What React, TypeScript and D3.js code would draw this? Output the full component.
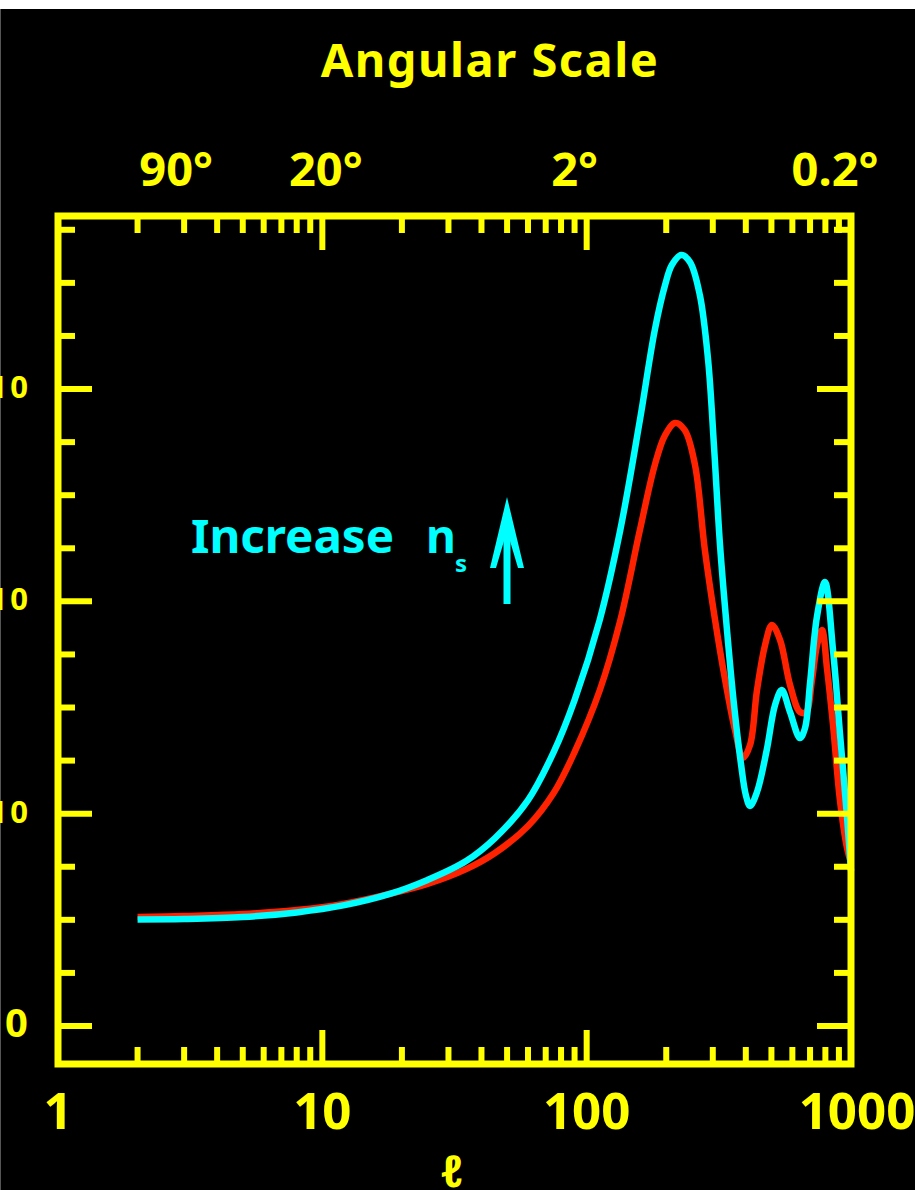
import React from "react";
import * as d3 from "d3";

const W = 915;
const H = 1190;

// multipole l and amplitude for each curve
const CYAN_L = [2, 3, 5, 8, 12, 18, 25, 35, 45, 60, 75, 90, 112, 134, 159, 181, 198, 210, 228, 246, 268, 288, 303, 319.5, 340, 361, 384, 400, 415, 441, 480, 516, 547, 588, 641, 670, 700, 743, 797, 855, 908, 966, 1000];
const CYAN_V = [5.02, 5.04, 5.13, 5.35, 5.68, 6.22, 6.88, 7.77, 8.85, 10.64, 12.9, 15.35, 19.12, 23.36, 28.54, 32.78, 34.9, 35.84, 36.31, 35.98, 34.43, 31.37, 27.36, 22.65, 18.56, 15.12, 12.29, 10.88, 10.36, 11.02, 13.0, 15.12, 15.82, 14.79, 13.56, 14.03, 16.15, 19.26, 20.91, 17.71, 13.8, 9.84, 7.3];

const RED_L = [2, 3, 5, 8, 12, 18, 25, 35, 45, 60, 75, 90, 112, 134, 159, 181, 198, 216, 235, 257, 280, 306, 334, 364, 390, 415, 441, 473, 502, 539, 588, 641, 676, 712, 744, 777, 811, 855, 908, 966, 1000];
const RED_V = [5.13, 5.18, 5.27, 5.46, 5.75, 6.22, 6.69, 7.39, 8.15, 9.42, 10.97, 12.9, 15.8, 19.1, 23.36, 26.42, 27.83, 28.4, 28.07, 26.42, 22.42, 19.12, 16.3, 13.94, 12.62, 13.23, 15.82, 17.94, 18.89, 18.18, 16.06, 14.79, 14.79, 16.3, 17.94, 18.65, 16.86, 14.18, 10.64, 8.38, 7.68];

const X_TICK_VALUES = [1, 10, 100, 1000];
const X_TICK_LABELS = ["1", "10", "100", "1000"];
const ANGLE_LABELS = ["90°", "20°", "2°", "0.2°"];
const ANGLE_POS = [2.8, 10.3, 90, 870];
const Y_MAJOR = [0, 10, 20, 30];
const Y_LABELS = ["0", "10", "10", "10"];
const Y_MINOR_STEP = 2.5;

const YELLOW = "#FFFF00";
const CYAN = "#00FFFF";
const RED = "#FF2200";
const FONT = "'Noto Sans', 'DejaVu Sans', sans-serif";

export default function App() {
  const left = 58, right = 851, top = 216, bottom = 1064;
  const x = d3.scaleLog().domain([1, 1000]).range([left, right]);
  const y = d3.scaleLinear().domain([-1.79, 38.15]).range([bottom, top]);

  const line = d3
    .line<[number, number]>()
    .x((d) => x(d[0]))
    .y((d) => y(d[1]))
    .curve(d3.curveCatmullRom.alpha(0.5));

  const cyanPts: [number, number][] = CYAN_L.map((l, i) => [l, CYAN_V[i]]);
  const redPts: [number, number][] = RED_L.map((l, i) => [l, RED_V[i]]);

  const minorX: number[] = [];
  [1, 10, 100].forEach((d) => {
    for (let k = 2; k <= 9; k++) minorX.push(d * k);
  });
  const majorX = [10, 100];

  const [y0, y1] = y.domain();
  const minorY: number[] = [];
  for (let v = Math.ceil(y0 / Y_MINOR_STEP) * Y_MINOR_STEP; v <= y1; v += Y_MINOR_STEP) {
    if (Math.abs(v % 10) > 1e-6) minorY.push(v);
  }

  const minorLen = 17;
  const majorLen = 34;
  const tickW = 6;

  // annotation arrow geometry
  const ax = 507;
  const arrowTip = 497;
  const arrowBase = 604;

  return (
    <div>
      <style>{"body{margin:0;background:#000;}"}</style>
      <svg width={W} height={H} style={{ display: "block", background: "#000" }}>
        <rect x={0} y={0} width={W} height={9} fill="#ffffff" />
        <line x1={0.5} x2={0.5} y1={9} y2={H} stroke="#555" strokeWidth={1} />

        {/* title */}
        <text x={490} y={77} fill={YELLOW} fontFamily={FONT} fontWeight={700} fontSize={47} letterSpacing={1.5} textAnchor="middle">
          Angular Scale
        </text>
        {ANGLE_LABELS.map((t, i) => (
          <text key={t} x={x(ANGLE_POS[i])} y={186} fill={YELLOW} fontFamily={FONT} fontWeight={700} fontSize={47} textAnchor="middle">
            {t}
          </text>
        ))}

        {/* curves */}
        <path d={line(redPts) || ""} fill="none" stroke={RED} strokeWidth={6.5} />
        <path d={line(cyanPts) || ""} fill="none" stroke={CYAN} strokeWidth={6.5} />

        {/* ticks bottom & top */}
        {minorX.map((v) => (
          <g key={"mx" + v}>
            <line x1={x(v)} x2={x(v)} y1={bottom} y2={bottom - minorLen} stroke={YELLOW} strokeWidth={tickW} />
            <line x1={x(v)} x2={x(v)} y1={top} y2={top + minorLen} stroke={YELLOW} strokeWidth={tickW} />
          </g>
        ))}
        {majorX.map((v) => (
          <g key={"Mx" + v}>
            <line x1={x(v)} x2={x(v)} y1={bottom} y2={bottom - majorLen} stroke={YELLOW} strokeWidth={tickW} />
            <line x1={x(v)} x2={x(v)} y1={top} y2={top + majorLen} stroke={YELLOW} strokeWidth={tickW} />
          </g>
        ))}
        {/* ticks left & right */}
        {minorY.map((v) => (
          <g key={"my" + v}>
            <line x1={left} x2={left + minorLen} y1={y(v)} y2={y(v)} stroke={YELLOW} strokeWidth={tickW} />
            <line x1={right} x2={right - minorLen} y1={y(v)} y2={y(v)} stroke={YELLOW} strokeWidth={tickW} />
          </g>
        ))}
        {Y_MAJOR.map((v) => (
          <g key={"My" + v}>
            <line x1={left} x2={left + majorLen} y1={y(v)} y2={y(v)} stroke={YELLOW} strokeWidth={tickW} />
            <line x1={right} x2={right - majorLen} y1={y(v)} y2={y(v)} stroke={YELLOW} strokeWidth={tickW} />
          </g>
        ))}

        {/* frame */}
        <rect x={left} y={top} width={right - left} height={bottom - top} fill="none" stroke={YELLOW} strokeWidth={7} />

        {/* y labels (cropped at the left edge, as in the source image) */}
        {Y_MAJOR.map((v, i) => (
          <text
            key={"yl" + v}
            x={v === 0 ? 28 : 31}
            y={y(v) + (v === 0 ? 11 : 9)}
            fill={YELLOW}
            fontFamily={FONT}
            fontWeight={700}
            fontSize={v === 0 ? 40 : 31}
            letterSpacing={v === 0 ? 0 : 3}
            textAnchor="end"
          >
            {Y_LABELS[i]}
          </text>
        ))}

        {/* x labels */}
        {X_TICK_VALUES.map((v, i) => (
          <text key={"xl" + v} x={x(v) + (v === 1000 ? 6 : 0)} y={1129} fill={YELLOW} fontFamily={FONT} fontWeight={700} fontSize={51} textAnchor="middle">
            {X_TICK_LABELS[i]}
          </text>
        ))}
        <text x={452} y={1187} fill={YELLOW} fontFamily={FONT} fontWeight={700} fontStyle="italic" fontSize={44} textAnchor="middle">
          ℓ
        </text>

        {/* annotation */}
        <text x={191} y={553} fill={CYAN} fontFamily={FONT} fontWeight={700} fontSize={46} textLength={203} lengthAdjust="spacingAndGlyphs">
          Increase
        </text>
        <text x={426} y={553} fill={CYAN} fontFamily={FONT} fontWeight={700} fontSize={46}>
          n
        </text>
        <text x={455} y={572} fill={CYAN} fontFamily={FONT} fontWeight={700} fontSize={24}>
          s
        </text>
        <line x1={ax} x2={ax} y1={arrowTip + 20} y2={arrowBase} stroke={CYAN} strokeWidth={7} />
        <path
          d={`M${ax},${arrowTip} L${ax + 17},${arrowTip + 71} L${ax + 11},${arrowTip + 71} L${ax},${arrowTip + 34} L${ax - 11},${arrowTip + 71} L${ax - 17},${arrowTip + 71} Z`}
          fill={CYAN}
        />
      </svg>
    </div>
  );
}
